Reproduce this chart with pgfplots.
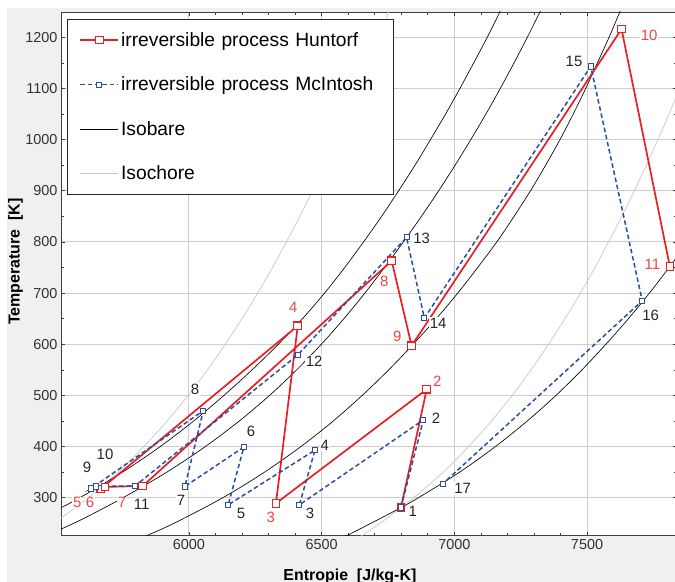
\documentclass[border=0pt]{standalone}
\usepackage{fontspec}
\setmainfont{Liberation Sans}
\usepackage{pgfplots}
\pgfplotsset{compat=1.18}

\definecolor{hred}{RGB}{232,32,36}
\definecolor{hredlab}{RGB}{238,70,70}
\definecolor{mblue}{RGB}{44,78,160}
\definecolor{isoc}{RGB}{200,200,200}
\definecolor{panel}{RGB}{240,240,240}
\definecolor{gridc}{RGB}{205,205,205}

\pgfplotsset{
  huntorf/.style={color=hred, line width=1.7bp, mark=square*, mark size=3.8bp,
    mark options={solid, fill=white, line width=1.1bp}},
  mcintosh/.style={color=mblue, line width=1.5bp, dash pattern=on 4.5bp off 2.8bp,
    mark=square*, mark size=2.6bp,
    mark options={solid, fill=white, line width=0.9bp}},
  isobar/.style={black, line width=0.65bp},
  isochor/.style={isoc, line width=0.7bp},
}
\tikzset{
  lab/.style={font=\fontsize{15}{17}\selectfont, text=black!85, fill=white, inner sep=1bp},
  rlab/.style={font=\fontsize{15}{17}\selectfont, text=hredlab, fill=white, inner sep=1bp},
}

\begin{document}
\begin{tikzpicture}[x=1bp,y=1bp]
\fill[white] (0,0) rectangle (675,582);
\fill[panel] (7,0) rectangle (675,574);
\begin{axis}[
  at={(61bp,46.3bp)}, anchor=south west,
  scale only axis, width=616bp, height=523.7bp,
  xmin=5518, xmax=7839, ymin=225.7, ymax=1249.5,
  axis background/.style={fill=white},
  xtick={6000,6500,7000,7500}, ytick={300,400,...,1200},
  minor x tick num=4, minor y tick num=1,
  tick align=inside, major tick length=4bp, minor tick length=3bp,
  tick style={black!75, line width=0.6bp},
  grid=major, grid style={gridc, line width=0.9bp},
  axis line style={black!75, line width=0.9bp},
  ticklabel style={font=\fontsize{14.5}{16}\selectfont, text=black!80},
  /pgf/number format/assume math mode=true,
  /pgf/number format/1000 sep={},
  xlabel={Entropie\ \ [J/kg-K]}, ylabel={Temperature\ \ [K]},
  label style={font=\fontsize{16}{18}\selectfont\bfseries},
  xlabel style={at={(axis description cs:0.469,-0.077)}, anchor=center},
  ylabel style={at={(axis description cs:-0.074,0.523)}, anchor=center},
  legend cell align=left,
  legend image code/.code={\draw[mark repeat=2,mark phase=2,#1] plot coordinates {(0bp,0bp) (19bp,0bp) (38bp,0bp)};},
  legend style={at={(0,1)}, xshift=6bp, yshift=-7bp, anchor=north west,
    draw=black!85, line width=0.9bp, fill=white,
    font=\fontsize{19.3}{21}\selectfont, row sep=25bp,
    inner xsep=12bp, inner ysep=11bp,
    nodes={text width=258bp, align=left}},
]
\addlegendimage{huntorf}\addlegendentry{irreversible process Huntorf}
\addlegendimage{mcintosh}\addlegendentry{irreversible process McIntosh}
\addlegendimage{isobar}\addlegendentry{Isobare}
\addlegendimage{isochor}\addlegendentry{Isochore}

% isochores
\addplot[isochor, smooth, forget plot] coordinates {(5460,240) (5518,260) (5621,300) (5733,350) (5830,400) (5918,450) (5997,500) (6070,550) (6137,600) (6200,650) (6259,700) (6315,750) (6367,800) (6418,850) (6466,900) (6512,950) (6556,1000) (6598,1050) (6639,1100) (6678,1150) (6717,1200) (6753,1250) (6767,1270)};
\addplot[isochor, smooth, forget plot] coordinates {(6646,224) (6720,250) (6798,280) (6847,300) (6958,350) (7054,400) (7140,450) (7218,500) (7289,550) (7355,600) (7417,650) (7475,700) (7530,750) (7581,800) (7631,850) (7678,900) (7724,950) (7767,1000) (7809,1050) (7849,1100)};

% isobars
\addplot[isobar, smooth, forget plot] coordinates {(5498,275) (5589,300) (5750,350) (5892,400) (6018,450) (6132,500) (6238,550) (6337,600) (6428,650) (6511,700) (6587,750) (6658,800) (6726,850) (6790,900) (6852,950) (6910,1000) (6967,1050) (7021,1100) (7073,1150) (7124,1200) (7172,1250) (7191,1270)};
\addplot[isobar, smooth, forget plot] coordinates {(5503,235) (5606,260) (5752,300) (5917,350) (6062,400) (6190,450) (6304,500) (6406,550) (6499,600) (6584,650) (6663,700) (6737,750) (6808,800) (6876,850) (6941,900) (7003,950) (7062,1000) (7119,1050) (7173,1100) (7225,1150) (7275,1200) (7323,1250) (7342,1270)};
\addplot[isobar, smooth, forget plot] coordinates {(5833,224) (5944,250) (6128,300) (6285,350) (6422,400) (6544,450) (6653,500) (6753,550) (6845,600) (6932,650) (7013,700) (7088,750) (7160,800) (7225,850) (7287,900) (7344,950) (7398,1000) (7448,1050) (7495,1100) (7539,1150) (7583,1200) (7624,1250) (7641,1270)};
\addplot[isobar, smooth, forget plot] coordinates {(6588,224) (6686,250) (6797,280) (6865,300) (7020,350) (7155,400) (7275,450) (7383,500) (7481,550) (7571,600) (7656,650) (7735,700) (7809,750) (7880,800)};

% processes
\addplot[huntorf, forget plot] coordinates {(6799,281) (6896,512) (6328,289) (6410,636) (5668,317) (5684,321) (5826,323) (6764,763) (6839,597) (7630,1216) (7812,752)};
\addplot[mcintosh, forget plot] coordinates {(6799,281) (6883,452) (6416,286) (6475,393) (6148,286) (6207,399) (5985,322) (6054,470) (5631,318) (5649,322) (5797,323) (6410,579) (6820,809) (6887,651) (7514,1143) (7708,685) (6956,327)};

% state labels Huntorf
\node[rlab] at (axis cs:6936,528) {2};
\node[rlab] at (axis cs:6308,261) {3};
\node[rlab] at (axis cs:6393,672) {4};
\node[rlab] at (axis cs:5579,290) {5};
\node[rlab] at (axis cs:5627,290) {6};
\node[rlab] at (axis cs:5748,290) {7};
\node[rlab] at (axis cs:6736,722) {8};
\node[rlab] at (axis cs:6785,615) {9};
\node[rlab] at (axis cs:7734,1203) {10};
\node[rlab] at (axis cs:7746,757) {11};
% state labels McIntosh
\node[lab] at (axis cs:6843,273) {1};
\node[lab] at (axis cs:6931,455) {2};
\node[lab] at (axis cs:6456,270) {3};
\node[lab] at (axis cs:6512,403) {4};
\node[lab] at (axis cs:6196,270) {5};
\node[lab] at (axis cs:6234,429) {6};
\node[lab] at (axis cs:5970,294) {7};
\node[lab] at (axis cs:6023,511) {8};
\node[lab] at (axis cs:5616,360) {9};
\node[lab] at (axis cs:5684,384) {10};
\node[lab] at (axis cs:5822,286) {11};
\node[lab] at (axis cs:6472,566) {12};
\node[lab] at (axis cs:6877,807) {13};
\node[lab] at (axis cs:6939,641) {14};
\node[lab] at (axis cs:7451,1152) {15};
\node[lab] at (axis cs:7740,657) {16};
\node[lab] at (axis cs:7031,318) {17};
\end{axis}
\pgfresetboundingbox
\useasboundingbox (0,0) rectangle (675,582);
\end{tikzpicture}
\end{document}
